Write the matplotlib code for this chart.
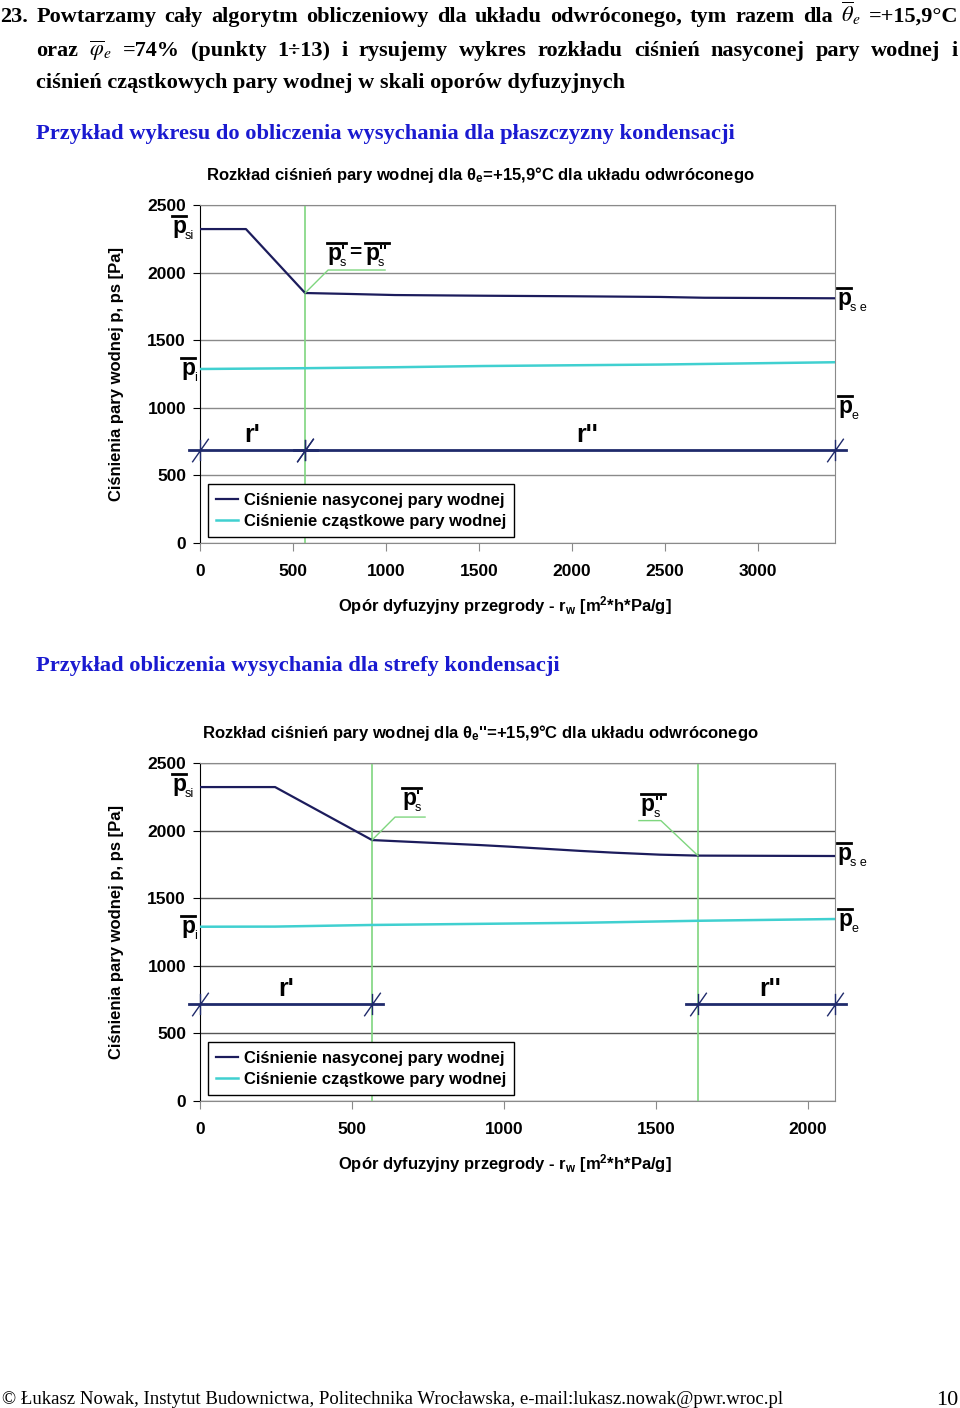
import numpy as np
import matplotlib.pyplot as plt
from matplotlib.path import Path

plt.rcParams['font.family'] = ['Liberation Sans', 'DejaVu Sans']
plt.rcParams['mathtext.fontset'] = 'custom'
plt.rcParams['mathtext.rm'] = 'Liberation Sans:bold'
plt.rcParams['mathtext.bf'] = 'Liberation Sans:bold'
plt.rcParams['mathtext.it'] = 'Liberation Sans:bold'
plt.rcParams['mathtext.sf'] = 'Liberation Sans:bold'

W, H = 960, 1408

# --- chart 1: condensation plane ---
rw_sat1 = [0, 247, 565, 806, 1048, 1522, 2005, 2473, 2710, 3414]
p_sat1 = [2322, 2322, 1849, 1842, 1834, 1829, 1825, 1820, 1814, 1810]
rw_part1 = [0, 565, 1048, 1522, 2473, 3414]
p_part1 = [1287, 1293, 1300, 1309, 1320, 1337]
cond1 = [565]
spans1 = [(0, 565), (565, 3414)]
xmax1 = 3414
xticks1 = [0, 500, 1000, 1500, 2000, 2500, 3000]
dim1 = 688

# --- chart 2: condensation zone ---
rw_sat2 = [0, 247, 566, 921, 1020, 1250, 1359, 1513, 1638, 2089]
p_sat2 = [2322, 2322, 1930, 1893, 1881, 1850, 1837, 1822, 1815, 1812]
rw_part2 = [0, 247, 566, 1250, 1638, 2089]
p_part2 = [1289, 1290, 1302, 1318, 1333, 1346]
cond2 = [566, 1638]
spans2 = [(0, 566), (1638, 2089)]
xmax2 = 2089
xticks2 = [0, 500, 1000, 1500, 2000]
dim2 = 717

yticks = [0, 500, 1000, 1500, 2000, 2500]
lbl_sat = 'Ciśnienie nasyconej pary wodnej'
lbl_part = 'Ciśnienie cząstkowe pary wodnej'

c_sat = '#1c1c5c'
c_part = '#40d0d0'
c_green = '#7fd67f'
c_dim = '#1f2a6b'
c_blue = '#1a1ad0'

fig = plt.figure(figsize=(W / 100, H / 100), dpi=100)


def fx(x):
    return x / W


def fy(y):
    return 1 - y / H


slash = Path([(-0.7, -1), (0.7, 1), (0, -0.9), (0, 0.9)],
             [Path.MOVETO, Path.LINETO, Path.MOVETO, Path.LINETO])


def chart(top, rw_s, p_s, rw_p, p_p, cond, spans, xmax, xticks, dim, title, grid_color,
          r_shift):
    ax = fig.add_axes([fx(200), fy(top + 338), fx(635), 338 / H])
    ax.set_xlim(0, xmax)
    ax.set_ylim(0, 2500)
    ax.set_yticks(yticks)
    ax.set_xticks(xticks)
    ax.yaxis.grid(True, color=grid_color, lw=1)
    ax.set_axisbelow(True)
    for s in ['top', 'right', 'bottom']:
        ax.spines[s].set_color('#8a8a8a')
    ax.spines['left'].set_color('black')
    ax.tick_params(axis='y', length=5, pad=5, labelsize=12.5)
    ax.tick_params(axis='x', length=6, pad=9, labelsize=12.5, color='#8a8a8a')
    for t in ax.get_xticklabels() + ax.get_yticklabels():
        t.set_fontweight('bold')

    for c in cond:
        ax.axvline(c, color=c_green, lw=1.2, zorder=1)
    ax.plot(rw_s, p_s, color=c_sat, lw=1.6, label=lbl_sat, zorder=3)
    ax.plot(rw_p, p_p, color=c_part, lw=1.8, label=lbl_part, zorder=3)

    # dimension lines
    ext = 0.018 * xmax
    for i, (a, b) in enumerate(spans):
        ax.plot([a - ext, b + ext], [dim, dim], color=c_dim, lw=2, clip_on=False, zorder=4)
        ax.plot([a, b], [dim, dim], ls='none', marker=slash, ms=17, mew=1,
                color=c_dim, clip_on=False, zorder=4)
        ax.annotate("r'" if i == 0 else "r''", xy=((a + b) / 2, dim),
                    xytext=(r_shift[i], 15), textcoords='offset pixels',
                    ha='center', va='center', fontsize=18, fontweight='bold',
                    annotation_clip=False)

    ax.set_ylabel('Ciśnienia pary wodnej p, ps [Pa]', fontsize=12, fontweight='bold')
    ax.yaxis.set_label_coords(-0.119, 0.5)
    ax.set_xlabel('Opór dyfuzyjny przegrody - r$_\\mathrm{w}$ [m$^\\mathrm{2}$*h*Pa/g]',
                  fontsize=12, fontweight='bold')
    ax.xaxis.set_label_coords(0.48, -0.15)
    ax.text(0.441, 1.089, title, transform=ax.transAxes, ha='center', va='center',
            fontsize=12, fontweight='bold')

    ax.legend(loc='lower left', bbox_to_anchor=(0.0126, 0.018), borderaxespad=0,
              prop={'weight': 'bold', 'size': 12}, frameon=True, fancybox=False,
              edgecolor='black', framealpha=1, handlelength=1.3, handletextpad=0.35,
              labelspacing=0.35, borderpad=0.5).get_frame().set_linewidth(1)
    return ax


def plabel(ax, xy, off, sub, prime=''):
    # bold "p" with an overline, optional primes and a small subscript
    X, Y = ax.transData.transform(xy)
    X, Y = X + off[0], Y + off[1]
    fig.text(X / W, Y / H, 'p', fontsize=16.5, fontweight='bold', va='baseline')
    wbar = 14 + 5 * len(prime)
    fig.add_artist(plt.Line2D([X, X + wbar], [Y + 17, Y + 17], color='black', lw=2,
                              transform=None))
    if prime:
        fig.text((X + 14) / W, (Y + 3) / H, prime, fontsize=12, fontweight='bold',
                 va='baseline')
    fig.text((X + 13) / W, (Y - 6) / H, sub, fontsize=9, va='baseline')


def leader(ax, xy, pts):
    x0, y0 = ax.transData.transform(xy)
    xs = [x0] + [x0 + dx for dx, dy in pts]
    ys = [y0] + [y0 + dy for dx, dy in pts]
    ax.plot(xs, ys, color=c_green, lw=1, transform=None, clip_on=False, zorder=5)


ax1 = chart(205, rw_sat1, p_sat1, rw_part1, p_part1, cond1, spans1, xmax1, xticks1,
            dim1, 'Rozkład ciśnień pary wodnej dla θ$_\\mathrm{e}$=+15,9°C dla układu odwróconego',
            '#8a8a8a', (0, 17))
plabel(ax1, (rw_sat1[0], p_sat1[0]), (-28, -4), 'si')
plabel(ax1, (rw_part1[0], p_part1[0]), (-19, -6), 'i')
plabel(ax1, (rw_sat1[-1], p_sat1[-1]), (2, -7), 's e')
plabel(ax1, (rw_part1[-1], p_part1[-1]), (3, -51), 'e')
plabel(ax1, (cond1[0], p_sat1[2]), (22, 33), 's', "'")
plabel(ax1, (cond1[0], p_sat1[2]), (60, 33), 's', "''")
X1, Y1 = ax1.transData.transform((cond1[0], p_sat1[2]))
fig.text((X1 + 44) / W, (Y1 + 35) / H, '=', fontsize=15, fontweight='bold', va='baseline')
leader(ax1, (cond1[0], p_sat1[2]), [(23, 23), (80, 23)])

ax2 = chart(763, rw_sat2, p_sat2, rw_part2, p_part2, cond2, spans2, xmax2, xticks2,
            dim2, "Rozkład ciśnień pary wodnej dla θ$_\\mathrm{e}$''=+15,9°C dla układu odwróconego",
            '#555555', (0, 4))
plabel(ax2, (rw_sat2[0], p_sat2[0]), (-28, -4), 'si')
plabel(ax2, (rw_part2[0], p_part2[0]), (-19, -6), 'i')
plabel(ax2, (rw_sat2[-1], p_sat2[-1]), (2, -4), 's e')
plabel(ax2, (rw_part2[-1], p_part2[-1]), (3, -7), 'e')
plabel(ax2, (cond2[0], p_sat2[2]), (30, 35), 's', "'")
plabel(ax2, (cond2[1], p_sat2[-2]), (-57, 45), 's', "''")
leader(ax2, (cond2[0], p_sat2[2]), [(23, 23), (53, 23)])
leader(ax2, (cond2[1], p_sat2[-2]), [(-37, 35), (-59, 35)])

# --- page text ---
serif = dict(family=['Liberation Serif', 'DejaVu Serif'], math_fontfamily='stix')
renderer = fig.canvas.get_renderer()


def justify(words, y, x0, x1, **kw):
    texts = [fig.text(0, fy(y), w, va='baseline', **kw) for w in words]
    widths = [t.get_window_extent(renderer).width for t in texts]
    gap = (x1 - x0 - sum(widths)) / (len(words) - 1)
    x = x0
    for t, w in zip(texts, widths):
        t.set_x(fx(x))
        x += w + gap


line1 = ['23.', 'Powtarzamy', 'cały', 'algorytm', 'obliczeniowy', 'dla', 'układu',
         'odwróconego,', 'tym', 'razem', 'dla', r'$\overline{\theta}_{e}$', '=+15,9°C']
line2 = ['oraz', r'$\overline{\varphi}_{e}$', '=74%', '(punkty', '1÷13)', 'i', 'rysujemy',
         'wykres', 'rozkładu', 'ciśnień', 'nasyconej', 'pary', 'wodnej', 'i']
fs = 16
justify(line1, 22, 0, 958, fontsize=fs, fontweight='bold', **serif)
justify(line2, 56, 36, 958, fontsize=fs, fontweight='bold', **serif)
fig.text(fx(36), fy(88), 'ciśnień cząstkowych pary wodnej w skali oporów dyfuzyjnych',
         va='baseline', fontsize=fs, fontweight='bold', **serif)
fig.text(fx(36), fy(139), 'Przykład wykresu do obliczenia wysychania dla płaszczyzny kondensacji',
         va='baseline', fontsize=16.2, fontweight='bold', color=c_blue, **serif)
fig.text(fx(36), fy(671), 'Przykład obliczenia wysychania dla strefy kondensacji',
         va='baseline', fontsize=16.2, fontweight='bold', color=c_blue, **serif)
fig.text(fx(2), fy(1404),
         '© Łukasz Nowak, Instytut Budownictwa, Politechnika Wrocławska, e-mail:lukasz.nowak@pwr.wroc.pl',
         va='baseline', fontsize=13.5, **serif)
fig.text(fx(958), fy(1405), '10', ha='right', va='baseline', fontsize=16, **serif)

fig.savefig('out.png', dpi=100)
plt.close()
